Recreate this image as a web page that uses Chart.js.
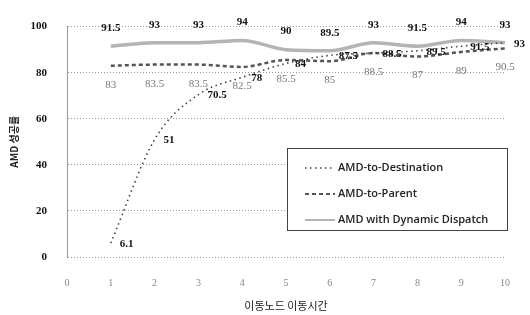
<!DOCTYPE html>
<html>
<head>
<meta charset="utf-8">
<script src="https://cdn.jsdelivr.net/npm/chart.js@4/dist/chart.umd.min.js"></script>
<style>
  html, body { margin: 0; padding: 0; background: #fff; }
</style>
</head>
<body>
<canvas id="chart" width="530" height="315"></canvas>
<script>
// data
const moveTimes = [1, 2, 3, 4, 5, 6, 7, 8, 9, 10];
const toDestination = [6.1, 51, 70.5, 78, 84, 87.5, 88.5, 89.5, 91.5, 93];
const toParent = [83, 83.5, 83.5, 82.5, 85.5, 85, 88.5, 87, 89, 90.5];
const dynamicDispatch = [91.5, 93, 93, 94, 90, 89.5, 93, 91.5, 94, 93];
const seriesNames = ['AMD-to-Destination', 'AMD-to-Parent', 'AMD with Dynamic Dispatch'];
const xTicks = [0, 1, 2, 3, 4, 5, 6, 7, 8, 9, 10];
const yTicks = [0, 20, 40, 60, 80, 100];

const points = vals => vals.map((v, i) => ({ x: moveTimes[i], y: v }));

// value labels next to each point
const valueLabels = {
  id: 'valueLabels',
  afterDatasetsDraw(chart) {
    const ctx = chart.ctx;
    ctx.save();
    chart.data.datasets.forEach((ds, di) => {
      const meta = chart.getDatasetMeta(di);
      meta.data.forEach((pt, i) => {
        const txt = String(ds.data[i].y);
        if (di === 0) {
          ctx.font = 'bold 11px "Liberation Serif"';
          ctx.fillStyle = '#111';
          ctx.textAlign = 'left';
          ctx.textBaseline = 'middle';
          ctx.fillText(txt, pt.x + 9, pt.y + 1);
        } else if (di === 1) {
          ctx.font = '11px "Liberation Serif"';
          ctx.fillStyle = '#777';
          ctx.textAlign = 'center';
          ctx.textBaseline = 'middle';
          ctx.fillText(txt, pt.x, pt.y + 19);
        } else {
          ctx.font = 'bold 11px "Liberation Serif"';
          ctx.fillStyle = '#111';
          ctx.textAlign = 'center';
          ctx.textBaseline = 'middle';
          ctx.fillText(txt, pt.x, pt.y - 18);
        }
      });
    });
    ctx.restore();
  }
};

// boxed legend inside the plot
const boxLegend = {
  id: 'boxLegend',
  afterDraw(chart) {
    const ctx = chart.ctx;
    const x = 287, y = 148, w = 220, h = 82;
    ctx.save();
    ctx.fillStyle = '#fff';
    ctx.fillRect(x, y, w, h);
    ctx.strokeStyle = '#444';
    ctx.lineWidth = 1;
    ctx.strokeRect(x + 0.5, y + 0.5, w, h);
    chart.data.datasets.forEach((ds, i) => {
      const ry = y + 20 + i * 26;
      ctx.beginPath();
      ctx.setLineDash(ds.borderDash || []);
      ctx.strokeStyle = ds.borderColor;
      ctx.lineWidth = Math.min(ds.borderWidth, 2);
      ctx.moveTo(x + 18, ry);
      ctx.lineTo(x + 48, ry);
      ctx.stroke();
      ctx.setLineDash([]);
      ctx.font = '600 11px "Open Sans"';
      ctx.fillStyle = '#222';
      ctx.textAlign = 'left';
      ctx.textBaseline = 'middle';
      ctx.fillText(ds.label, x + 51, ry);
    });
    ctx.restore();
  }
};

new Chart(document.getElementById('chart'), {
  type: 'line',
  data: {
    datasets: [
      {
        label: seriesNames[0],
        data: points(toDestination),
        borderColor: '#444',
        borderWidth: 1.6,
        borderDash: [1.5, 3.5],
        cubicInterpolationMode: 'monotone',
        pointRadius: 0,
        fill: false
      },
      {
        label: seriesNames[1],
        data: points(toParent),
        borderColor: '#555',
        borderWidth: 2.5,
        borderDash: [4, 3],
        cubicInterpolationMode: 'monotone',
        pointRadius: 0,
        fill: false
      },
      {
        label: seriesNames[2],
        data: points(dynamicDispatch),
        borderColor: '#b4b4b4',
        borderWidth: 3.5,
        cubicInterpolationMode: 'monotone',
        pointRadius: 0,
        fill: false
      }
    ]
  },
  options: {
    responsive: false,
    animation: false,
    layout: { padding: { top: 18, right: 21, bottom: 0, left: 0 } },
    plugins: {
      legend: { display: false },
      tooltip: { enabled: false }
    },
    scales: {
      x: {
        type: 'linear',
        min: 0,
        max: 10,
        afterFit: s => { s.height = 58; },
        afterBuildTicks: s => { s.ticks = xTicks.map(v => ({ value: v })); },
        grid: { display: false, drawTicks: false },
        border: { display: false },
        ticks: {
          padding: 20,
          color: '#888',
          font: { family: '"Liberation Serif"', size: 10 }
        },
        title: {
          display: true,
          text: '이동노드 이동시간',
          color: '#222',
          padding: { top: 0, bottom: 3 },
          font: { family: '"Noto Sans CJK KR"', size: 11 }
        }
      },
      y: {
        min: 0,
        max: 100,
        afterFit: s => { s.width = 67; },
        afterBuildTicks: s => { s.ticks = yTicks.map(v => ({ value: v })); },
        grid: {
          drawTicks: false,
          color: '#9a9a9a',
          lineWidth: 1,
          borderDash: [1, 2]
        },
        border: { display: true, color: '#9a9a9a', width: 1, dash: [1, 2] },
        ticks: {
          padding: 20,
          color: '#111',
          font: { family: '"Liberation Serif"', size: 11, weight: 'bold' }
        },
        title: {
          display: true,
          text: 'AMD 성공률',
          color: '#222',
          padding: { top: 8, bottom: 0 },
          font: { family: '"Noto Sans CJK KR"', size: 10, weight: 'bold' }
        }
      }
    }
  },
  plugins: [valueLabels, boxLegend]
});
</script>
</body>
</html>
